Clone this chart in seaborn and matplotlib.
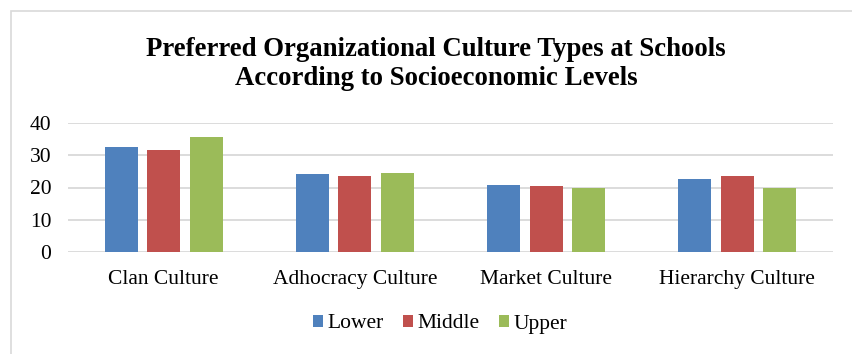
import matplotlib
matplotlib.use("Agg")
import matplotlib.pyplot as plt
from matplotlib.patches import Rectangle
import seaborn as sns
import pandas as pd

categories = ["Clan Culture", "Adhocracy Culture", "Market Culture", "Hierarchy Culture"]
levels = ["Lower", "Middle", "Upper"]
lower = [32.7, 24.1, 20.7, 22.6]
middle = [31.7, 23.5, 20.4, 23.7]
upper = [35.7, 24.5, 19.7, 19.7]
colors = ["#4F81BD", "#C0504D", "#9BBB59"]
yticks = [0, 10, 20, 30, 40]

df = pd.DataFrame({
    "Culture": categories * 3,
    "Level": [levels[0]] * 4 + [levels[1]] * 4 + [levels[2]] * 4,
    "Score": lower + middle + upper,
})

sns.set_theme(style="white")
plt.rcParams["font.family"] = ["Liberation Serif", "DejaVu Serif"]
plt.rcParams["text.color"] = "black"
plt.rcParams["xtick.color"] = "black"
plt.rcParams["ytick.color"] = "black"

fig = plt.figure(figsize=(8.52, 3.54), dpi=100)
ax = fig.add_axes([68 / 852, 1 - 252 / 354, (833 - 68) / 852, (252 - 123) / 354])

sns.barplot(data=df, x="Culture", y="Score", hue="Level", palette=colors,
            order=categories, hue_order=levels, width=0.667, gap=0.22,
            saturation=1, ax=ax, legend=True, edgecolor="none")

ax.set_ylim(0, 40)
ax.set_yticks(yticks)
ax.set_yticklabels([str(t) for t in yticks], fontsize=15.5)
ax.set_xlim(-0.5, 3.5)
ax.tick_params(axis="x", labelsize=15.5, length=0, pad=13)
ax.tick_params(axis="y", length=0, pad=12)
ax.set_xlabel("")
ax.set_ylabel("")
ax.yaxis.grid(True, color="#D9D9D9", linewidth=1.3)
ax.set_axisbelow(True)
for s in ax.spines.values():
    s.set_visible(False)

handles, labels = ax.get_legend_handles_labels()
ax.get_legend().remove()
fig.legend(handles, labels, loc="center", bbox_to_anchor=(440 / 852, 1 - 324 / 354),
           ncol=3, frameon=False, fontsize=15.5, handlelength=0.47, handleheight=0.47,
           handletextpad=0.22, columnspacing=0.88)

fig.text(436 / 852, 1 - 64 / 354,
         "Preferred Organizational Culture Types at Schools\nAccording to Socioeconomic Levels",
         ha="center", va="center", fontsize=19.3, fontweight="bold", linespacing=1.2)

# chart frame
fig.patches.append(Rectangle((11 / 852, -0.1), 1.2, 1 - 11 / 354 + 0.1,
                             transform=fig.transFigure, fill=False,
                             edgecolor="#D9D9D9", linewidth=1.2))

fig.savefig("out.png", dpi=100, facecolor="white")
